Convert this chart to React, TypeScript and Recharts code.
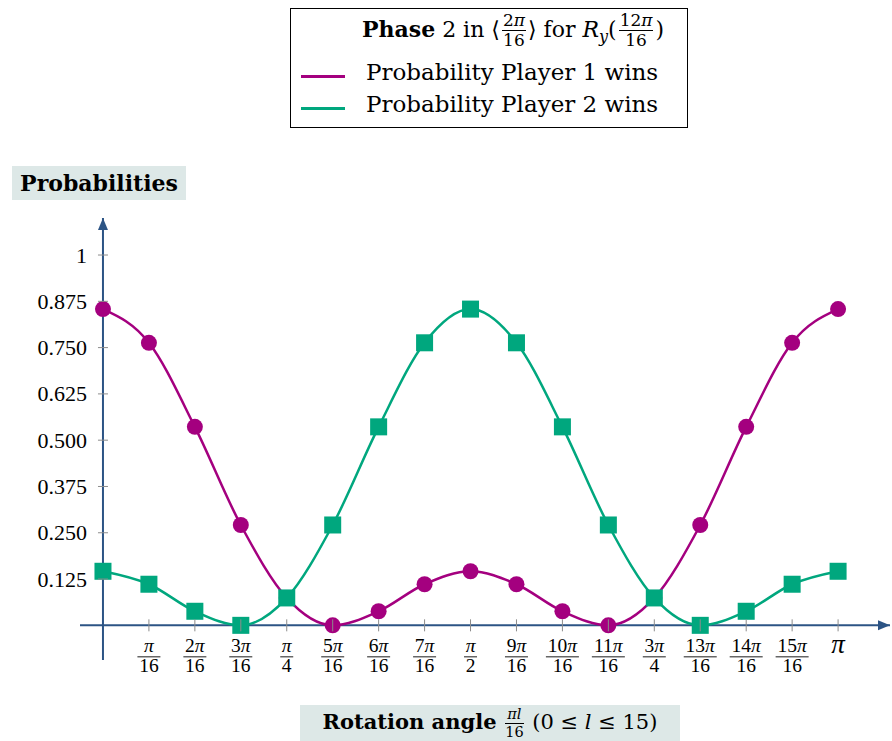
import React from 'react';
import { ComposedChart, Line, XAxis, YAxis, ReferenceLine, Legend } from 'recharts';

// l = 0..16 (angle = pi*l/16)
const steps = [0, 1, 2, 3, 4, 5, 6, 7, 8, 9, 10, 11, 12, 13, 14, 15, 16];
const player1 = [0.854, 0.763, 0.536, 0.271, 0.074, 0, 0.038, 0.111, 0.146, 0.111, 0.038, 0, 0.074, 0.271, 0.536, 0.763, 0.854];
const player2 = [0.146, 0.111, 0.038, 0, 0.074, 0.271, 0.536, 0.763, 0.854, 0.763, 0.536, 0.271, 0.074, 0, 0.038, 0.111, 0.146];
const seriesNames = ['Probability Player 1 wins', 'Probability Player 2 wins'];

const xTicks = [1, 2, 3, 4, 5, 6, 7, 8, 9, 10, 11, 12, 13, 14, 15, 16];
// numerator coefficient of pi ('' = 1) and denominator ('' = none)
const xTickNum = ['', '2', '3', '', '5', '6', '7', '', '9', '10', '11', '3', '13', '14', '15', ''];
const xTickDen = ['16', '16', '16', '4', '16', '16', '16', '2', '16', '16', '16', '4', '16', '16', '16', ''];
const yTicks = [0.125, 0.25, 0.375, 0.5, 0.625, 0.75, 0.875, 1];
const yTickLabels = ['0.125', '0.250', '0.375', '0.500', '0.625', '0.750', '0.875', '1'];

const data = steps.map((l, i) => ({ l, p1: player1[i], p2: player2[i] }));

const W = 892;
const H = 741;
const X_MIN = -0.5;
const X_MAX = 17.13;
const Y_MIN = -0.0936;
const Y_MAX = 1.1;
const margin = { top: 218, right: 2, bottom: 51, left: 0 };
const Y_AXIS_W = 80;
const X_AXIS_H = 30;
const plotLeft = margin.left + Y_AXIS_W;
const plotW = W - plotLeft - margin.right;
const plotTop = margin.top;
const plotH = H - margin.top - margin.bottom - X_AXIS_H;
const xPix = (v: number) => plotLeft + ((v - X_MIN) / (X_MAX - X_MIN)) * plotW;
const yPix = (v: number) => plotTop + ((Y_MAX - v) / (Y_MAX - Y_MIN)) * plotH;

const P1 = '#a4007f';
const P2 = '#00a77e';
const AXIS = '#2c5485';
const TICK = '#8c8c8c';
const BOX_BG = '#dde8e7';
const FONT_TEXT = '"DejaVu Serif", serif';
const FONT_NUM = '"Liberation Serif", serif';

const XTick = (props: any) => {
  const { x, payload } = props;
  const i = xTicks.indexOf(payload.value);
  const y0 = yPix(0);
  const num = xTickNum[i];
  const den = xTickDen[i];
  const w = Math.max(num.length + 1, den.length) * 10 + 3;
  return (
    <g>
      <line x1={x} x2={x} y1={y0 - 6} y2={y0 + 6} stroke={TICK} strokeWidth={1} />
      {den ? (
        <g fontFamily={FONT_NUM} fontSize={19.5} fill="#000" textAnchor="middle">
          <text x={x} y={y0 + 27}>
            {num}
            <tspan fontStyle="italic">π</tspan>
          </text>
          <line x1={x - w / 2} x2={x + w / 2} y1={y0 + 31.5} y2={y0 + 31.5} stroke="#000" strokeWidth={0.9} />
          <text x={x} y={y0 + 47}>{den}</text>
        </g>
      ) : (
        <text x={x} y={y0 + 28} fontFamily={FONT_NUM} fontStyle="italic" fontSize={27} textAnchor="middle" fill="#000">
          {num}π
        </text>
      )}
    </g>
  );
};

const YTick = (props: any) => {
  const { y, payload } = props;
  const i = yTicks.indexOf(payload.value);
  const x0 = xPix(0);
  return (
    <g>
      <line x1={x0 - 5} x2={x0 + 5} y1={y} y2={y} stroke={TICK} strokeWidth={1} />
      <text x={x0 - 16} y={y} dy="0.34em" textAnchor="end" fontFamily={FONT_NUM} fontSize={22} fill="#000">
        {yTickLabels[i]}
      </text>
    </g>
  );
};

const ArrowAxis = (props: any) => {
  const { x1, y1, x2, y2 } = props;
  const vertical = Math.abs(x1 - x2) < 0.5;
  let tip: [number, number];
  let pts: string;
  if (vertical) {
    tip = [x1, Math.min(y1, y2)];
    pts = `${tip[0]},${tip[1]} ${tip[0] - 5},${tip[1] + 12} ${tip[0] + 5},${tip[1] + 12}`;
  } else {
    tip = [Math.max(x1, x2), y1];
    pts = `${tip[0]},${tip[1]} ${tip[0] - 12},${tip[1] - 5} ${tip[0] - 12},${tip[1] + 5}`;
  }
  return (
    <g>
      <line x1={x1} y1={y1} x2={x2} y2={y2} stroke={AXIS} strokeWidth={2} />
      <polygon points={pts} fill={AXIS} />
    </g>
  );
};

const SquareDot = (props: any) => {
  const { cx, cy } = props;
  if (cx == null || cy == null) return <g />;
  return <rect x={cx - 8.5} y={cy - 8.5} width={17} height={17} fill={P2} />;
};

const Frac = ({ n, d, size }: { n: React.ReactNode; d: React.ReactNode; size: number }) => (
  <span
    style={{
      display: 'inline-flex',
      flexDirection: 'column',
      alignItems: 'center',
      verticalAlign: 'middle',
      fontSize: size,
      lineHeight: 1,
      margin: '0 2px',
    }}
  >
    <span style={{ padding: '0 1px 1px' }}>{n}</span>
    <span style={{ borderTop: '1px solid #000', alignSelf: 'stretch', textAlign: 'center', paddingTop: 1 }}>{d}</span>
  </span>
);

const LegendBox = (props: any) => {
  const items = props.payload || [];
  return (
    <div
      style={{
        width: 398,
        height: 120,
        boxSizing: 'border-box',
        border: '1px solid #000',
        background: '#fff',
        fontFamily: FONT_TEXT,
        position: 'relative',
        color: '#000',
      }}
    >
      <div style={{ position: 'absolute', left: 40, width: 364, top: 3, textAlign: 'center', fontSize: 22, whiteSpace: 'nowrap' }}>
        <b>Phase</b> 2 in ⟨<Frac n={<>2<i>π</i></>} d="16" size={17} />⟩ for <i>R</i>
        <sub style={{ fontSize: 16 }}><i>y</i></sub>(<Frac n={<>12<i>π</i></>} d="16" size={17} />)
      </div>
      {seriesNames.map((name, i) => (
        <div key={name} style={{ position: 'absolute', left: 0, top: 50 + i * 32, height: 30, width: '100%' }}>
          <div
            style={{
              position: 'absolute',
              left: 10,
              top: 16,
              width: 44,
              height: 3,
              background: items[i] ? items[i].color : i === 0 ? P1 : P2,
            }}
          />
          <div style={{ position: 'absolute', left: 75, top: 0, fontSize: 23, whiteSpace: 'nowrap' }}>{name}</div>
        </div>
      ))}
    </div>
  );
};

export default function App() {
  return (
    <div style={{ position: 'absolute', left: 0, top: 0, width: W, height: H, background: '#fff' }}>
      <ComposedChart width={W} height={H} data={data} margin={margin}>
        <XAxis
          dataKey="l"
          type="number"
          domain={[X_MIN, X_MAX]}
          ticks={xTicks}
          interval={0}
          height={X_AXIS_H}
          axisLine={false}
          tickLine={false}
          tick={XTick}
          allowDataOverflow
        />
        <YAxis
          type="number"
          domain={[Y_MIN, Y_MAX]}
          ticks={yTicks}
          interval={0}
          width={Y_AXIS_W}
          axisLine={false}
          tickLine={false}
          tick={YTick}
          allowDataOverflow
        />
        <ReferenceLine y={0} shape={ArrowAxis} />
        <ReferenceLine x={0} shape={ArrowAxis} />
        <Legend
          content={LegendBox}
          layout="horizontal"
          verticalAlign="middle"
          align="center"
          wrapperStyle={{ position: 'absolute', left: 290, top: 8, width: 398, height: 120 }}
        />
        <Line
          type="monotone"
          dataKey="p1"
          name={seriesNames[0]}
          stroke={P1}
          strokeWidth={2.5}
          dot={{ r: 8, fill: P1, stroke: P1, strokeWidth: 0 }}
          isAnimationActive={false}
        />
        <Line
          type="monotone"
          dataKey="p2"
          name={seriesNames[1]}
          stroke={P2}
          strokeWidth={2.5}
          dot={SquareDot}
          isAnimationActive={false}
        />
      </ComposedChart>
      <div
        style={{
          position: 'absolute',
          left: 12,
          top: 166,
          width: 174,
          height: 34,
          background: BOX_BG,
          fontFamily: FONT_TEXT,
          fontWeight: 'bold',
          fontSize: 22,
          lineHeight: '34px',
          textAlign: 'center',
          whiteSpace: 'nowrap',
        }}
      >
        Probabilities
      </div>
      <div
        style={{
          position: 'absolute',
          left: 300,
          top: 705,
          width: 380,
          height: 36,
          background: BOX_BG,
          fontFamily: FONT_TEXT,
          fontSize: 21,
          display: 'flex',
          alignItems: 'center',
          justifyContent: 'center',
        }}
      >
        <span style={{ whiteSpace: 'nowrap', lineHeight: 1 }}>
          <b>Rotation angle</b> <Frac n={<i>πl</i>} d="16" size={14.5} /> (0 ≤ <i>l</i> ≤ 15)
        </span>
      </div>
    </div>
  );
}
